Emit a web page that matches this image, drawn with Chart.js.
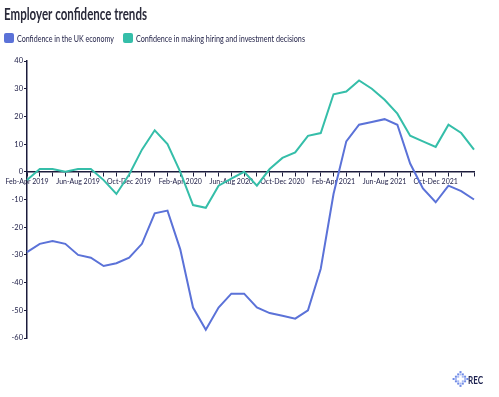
<!DOCTYPE html>
<html>
<head>
<meta charset="utf-8">
<title>Employer confidence trends</title>
<script src="https://cdn.jsdelivr.net/npm/chart.js@4.4.1/dist/chart.umd.min.js"></script>
<style>
body { margin: 0; background: #fff; }
#wrap { position: relative; width: 499px; height: 397px; }
</style>
</head>
<body>
<div id="wrap"><canvas id="chart"></canvas></div>
<script>
// rolling three-month periods
const periods = [
	'Feb-Apr 2019', 'Mar-May 2019', 'Apr-Jun 2019', 'May-Jul 2019', 'Jun-Aug 2019', 'Jul-Sep 2019',
	'Aug-Oct 2019', 'Sep-Nov 2019', 'Oct-Dec 2019', 'Nov-Jan 2020', 'Dec-Feb 2020', 'Jan-Mar 2020',
	'Feb-Apr 2020', 'Mar-May 2020', 'Apr-Jun 2020', 'May-Jul 2020', 'Jun-Aug 2020', 'Jul-Sep 2020',
	'Aug-Oct 2020', 'Sep-Nov 2020', 'Oct-Dec 2020', 'Nov-Jan 2021', 'Dec-Feb 2021', 'Jan-Mar 2021',
	'Feb-Apr 2021', 'Mar-May 2021', 'Apr-Jun 2021', 'May-Jul 2021', 'Jun-Aug 2021', 'Jul-Sep 2021',
	'Aug-Oct 2021', 'Sep-Nov 2021', 'Oct-Dec 2021', 'Nov-Jan 2022', 'Dec-Feb 2022', 'Jan-Mar 2022'
];

const ukEconomy = [
	-29, -26, -25, -26, -30, -31, -34, -33, -31, -26, -15, -14,
	-28, -49, -57, -49, -44, -44, -49, -51, -52, -53, -50, -35,
	-8, 11, 17, 18, 19, 17, 3, -6, -11, -5, -7, -10
];

const hiringInvestment = [
	-3, 1, 1, 0, 1, 1, -3, -8, -1, 8, 15, 10,
	0, -12, -13, -5, -2.5, 0, -5, 1, 5, 7, 13, 14,
	28, 29, 33, 30, 26, 21, 13, 11, 9, 17, 14, 8
];

const seriesNames = ['Confidence in the UK economy', 'Confidence in making hiring and investment decisions'];
const seriesColors = ['#5b72d8', '#35bea9'];
const yMin = -60, yMax = 40, yStep = 10;

const axisColor = '#1c1c3c';

// draw text squeezed into a given width (the original uses a condensed face)
function squeezeText(ctx, text, x, y, width) {
	let w = ctx.measureText(text).width;
	ctx.save();
	ctx.translate(x, y);
	ctx.scale(width / w, 1);
	ctx.fillText(text, 0, 0);
	ctx.restore();
}

const headerPlugin = {
	id: 'header',
	afterDraw(chart) {
		let ctx = chart.ctx;
		ctx.save();
		ctx.textBaseline = 'alphabetic';
		ctx.textAlign = 'left';

		// title
		ctx.fillStyle = '#2a2a3a';
		ctx.font = 'bold 17px Lato';
		squeezeText(ctx, 'Employer confidence trends', 4, 20, 143);

		// legend
		let boxX = [4, 123], textX = [17, 136], textW = [97, 169];
		ctx.font = '10px Lato';
		chart.data.datasets.forEach(function (ds, i) {
			ctx.fillStyle = ds.borderColor;
			ctx.beginPath();
			ctx.roundRect(boxX[i], 33, 10, 10, 2);
			ctx.fill();
			ctx.fillStyle = '#1d1d44';
			squeezeText(ctx, ds.label, textX[i], 42, textW[i]);
		});

		// REC logo, bottom right
		let cx = 460.5, cy = 379, step = 2.3;
		for (let dx = -3; dx <= 3; dx++) {
			for (let dy = -3; dy <= 3; dy++) {
				let d = Math.abs(dx) + Math.abs(dy);
				if (d > 3 || d < 2) continue;
				ctx.fillStyle = (d === 3) ? '#6f8ae6' : '#3f5fd2';
				if ((dx + dy) % 2 === 0 && d === 2) ctx.fillStyle = '#a9b9f2';
				ctx.fillRect(cx + dx * step - 1, cy + dy * step - 1, 2, 2);
			}
		}
		ctx.fillStyle = '#1d2250';
		ctx.font = 'bold 12px Lato';
		squeezeText(ctx, 'REC', 468, 384, 15);
		ctx.restore();
	}
};

let ctx = document.getElementById('chart');
new Chart(ctx, {
	type: 'line',
	data: {
		labels: periods,
		datasets: [{
			label: seriesNames[0],
			data: ukEconomy,
			borderColor: seriesColors[0],
			backgroundColor: seriesColors[0],
			borderWidth: 2,
			pointRadius: 0,
			tension: 0,
			fill: false
		}, {
			label: seriesNames[1],
			data: hiringInvestment,
			borderColor: seriesColors[1],
			backgroundColor: seriesColors[1],
			borderWidth: 2,
			pointRadius: 0,
			tension: 0,
			fill: false
		}]
	},
	options: {
		responsive: true,
		maintainAspectRatio: false,
		animation: false,
		layout: { padding: { top: 61, left: 0, right: 25, bottom: 59 } },
		plugins: {
			legend: { display: false },
			title: { display: false },
			tooltip: { enabled: false }
		},
		scales: {
			x: {
				position: { y: 0 },
				grid: { drawOnChartArea: false, drawTicks: true, tickLength: 4, color: axisColor, lineWidth: 1 },
				border: { color: axisColor, width: 1.5 },
				ticks: {
					autoSkip: false,
					maxRotation: 0,
					padding: 2,
					color: '#22224a',
					font: { family: 'Lato', size: 7 },
					callback: function (val, i) {
						return i % 4 === 0 ? this.getLabelForValue(val) : '';
					}
				},
				afterFit: function (s) {
					s.paddingLeft = 0; s.paddingRight = 0;
				}
			},
			y: {
				min: yMin,
				max: yMax,
				grid: { drawOnChartArea: false, drawTicks: true, tickLength: 3, color: axisColor },
				border: { color: axisColor, width: 1.5 },
				ticks: {
					stepSize: yStep,
					padding: 1,
					color: '#22224a',
					font: { family: 'Lato', size: 7.5 }
				},
				afterFit: function (s) {
					s.width = 27;
				}
			}
		}
	},
	plugins: [headerPlugin]
});
</script>
</body>
</html>
